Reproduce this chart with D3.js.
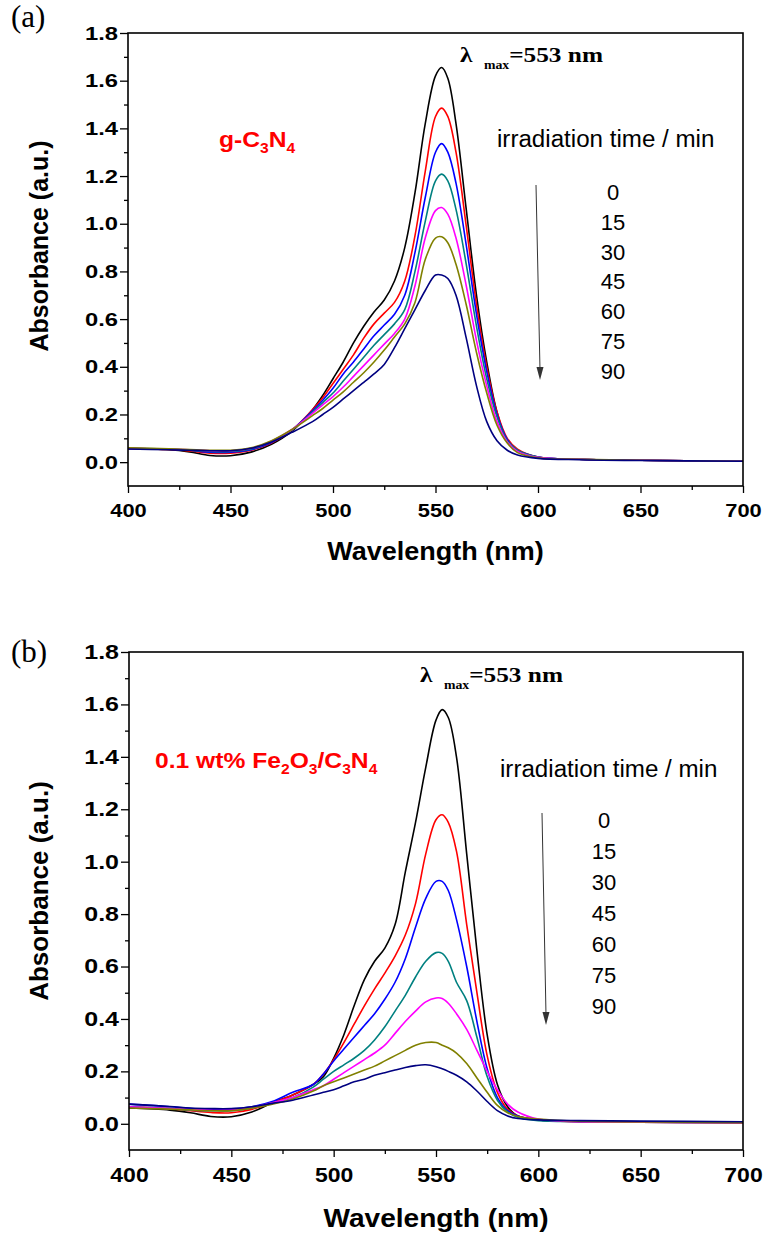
<!DOCTYPE html>
<html>
<head>
<meta charset="utf-8">
<script src="https://cdn.jsdelivr.net/npm/d3@7"></script>
<style>
  body { margin: 0; background: #fff; }
</style>
</head>
<body>
<div id="chart"></div>
<script>
var svgWidth = 764;
var svgHeight = 1236;

// wavelength grid (nm)
var wavelengths = [400, 420, 430, 440, 450, 460, 470, 480, 490, 495, 500, 505, 510, 515, 520, 525, 530, 535, 540, 545, 550, 553, 556, 560, 565, 570, 575, 580, 585, 590, 600, 620, 650, 700];
var times = ["0", "15", "30", "45", "60", "75", "90"];
var xTicks = [400, 450, 500, 550, 600, 650, 700];
var xMinor = [425, 475, 525, 575, 625, 675];
var yTicks = [0, 0.2, 0.4, 0.6, 0.8, 1.0, 1.2, 1.4, 1.6, 1.8];
var yMinor = [0.1, 0.3, 0.5, 0.7, 0.9, 1.1, 1.3, 1.5, 1.7];

// (a) g-C3N4
var a0  = [.057, .052, .043, .028, .027, .042, .075, .13, .22, .28, .35, .42, .50, .57, .63, .68, .76, .90, 1.13, 1.42, 1.62, 1.655, 1.61, 1.42, 1.06, .70, .42, .21, .09, .05, .02, .012, .008, .004];
var a15 = [.058, .053, .047, .038, .038, .05, .08, .135, .22, .27, .33, .39, .45, .52, .58, .625, .67, .76, .95, 1.22, 1.45, 1.485, 1.45, 1.30, .99, .66, .40, .21, .10, .055, .022, .012, .008, .004];
var a30 = [.058, .054, .05, .042, .042, .052, .082, .135, .215, .26, .31, .37, .42, .475, .53, .575, .62, .70, .88, 1.11, 1.30, 1.336, 1.30, 1.17, .91, .62, .38, .20, .095, .05, .022, .012, .008, .004];
var a45 = [.058, .055, .05, .045, .045, .055, .085, .135, .21, .25, .29, .34, .39, .44, .49, .535, .58, .64, .80, 1.01, 1.18, 1.208, 1.18, 1.06, .83, .57, .35, .19, .09, .05, .022, .012, .008, .004];
var a60 = [.058, .055, .052, .048, .048, .058, .088, .137, .205, .24, .275, .315, .36, .405, .45, .495, .54, .60, .74, .94, 1.055, 1.068, 1.04, .94, .74, .51, .32, .17, .085, .045, .02, .012, .008, .004];
var a75 = [.06, .056, .053, .05, .05, .06, .09, .137, .195, .225, .26, .295, .335, .375, .42, .47, .525, .58, .67, .85, .94, .945, .92, .83, .66, .46, .29, .155, .08, .04, .018, .012, .008, .004];
var a90 = [.055, .052, .05, .048, .048, .058, .085, .125, .17, .20, .23, .265, .30, .335, .37, .41, .48, .56, .64, .72, .785, .785, .77, .70, .52, .32, .17, .09, .05, .03, .016, .01, .007, .004];

// (b) 0.1 wt% Fe2O3/C3N4
var b0  = [.06, .052, .042, .028, .027, .045, .08, .11, .15, .18, .25, .34, .45, .55, .62, .67, .76, .96, 1.15, 1.36, 1.54, 1.58, 1.55, 1.40, 1.03, .66, .34, .15, .065, .03, .015, .008, .006, .004];
var b15 = [.065, .058, .05, .043, .042, .055, .08, .11, .15, .19, .245, .31, .38, .45, .515, .575, .64, .72, .84, 1.03, 1.16, 1.179, 1.15, 1.04, .76, .50, .26, .12, .055, .03, .015, .008, .006, .004];
var b30 = [.075, .065, .058, .055, .057, .065, .085, .12, .15, .19, .24, .285, .33, .375, .42, .475, .54, .63, .75, .86, .925, .925, .89, .78, .60, .39, .21, .10, .05, .03, .015, .01, .008, .006];
var b45 = [.065, .058, .052, .05, .05, .06, .08, .10, .14, .17, .20, .225, .25, .28, .32, .37, .43, .49, .56, .62, .653, .65, .62, .54, .47, .33, .18, .09, .045, .025, .012, .008, .006, .005];
var b60 = [.065, .058, .054, .052, .053, .062, .08, .10, .13, .145, .17, .195, .22, .245, .27, .30, .345, .39, .43, .465, .48, .478, .46, .42, .36, .28, .20, .13, .075, .045, .018, .008, .006, .005];
var b75 = [.06, .056, .053, .05, .05, .06, .075, .095, .125, .145, .16, .175, .19, .205, .22, .24, .26, .28, .30, .31, .31, .30, .29, .27, .23, .175, .12, .07, .042, .028, .018, .01, .007, .005];
var b90 = [.075, .066, .06, .058, .058, .065, .078, .09, .11, .12, .13, .145, .16, .17, .185, .195, .205, .215, .222, .225, .218, .21, .20, .185, .16, .125, .085, .05, .03, .02, .015, .012, .01, .008];

var lineColors = ["#000000", "#ff0000", "#0000ff", "#008080", "#ff00ff", "#808000", "#000080"];

var panels = [
  {
    tag: "(a)", series: [a0, a15, a30, a45, a60, a75, a90],
    top: 33, bottom: 486, left: 128, right: 743,
    tagY: 27, tickFont: 19, titleFont: 25, xTitleY: 560, yTitleY: 246,
    lam: {x: 460, y: 62},
    sample: [["g-C", 0], ["3", 1], ["N", 0], ["4", 1]], sampleX: 219, sampleY: 147,
    head: {x: 497, y: 147}, numX: 613, numY: 200, numStep: 29.8,
    arrow: [536, 185, 540, 380]
  },
  {
    tag: "(b)", series: [b0, b15, b30, b45, b60, b75, b90],
    top: 652, bottom: 1150, left: 129, right: 743,
    tagY: 662, tickFont: 20, titleFont: 26, xTitleY: 1227, yTitleY: 891,
    lam: {x: 420, y: 682},
    sample: [["0.1 wt% Fe", 0], ["2", 1], ["O", 0], ["3", 1], ["/C", 0], ["3", 1], ["N", 0], ["4", 1]], sampleX: 155, sampleY: 768,
    head: {x: 500, y: 777}, numX: 604, numY: 828, numStep: 31,
    arrow: [542, 813, 546, 1025]
  }
];

var svg = d3.select("#chart")
  .append("svg")
  .attr("width", svgWidth)
  .attr("height", svgHeight);

var sans = "'Liberation Sans', Arial, sans-serif";
var serif = "'Liberation Serif', 'Times New Roman', serif";

panels.forEach(function(p) {
  var g = svg.append("g");

  var x = d3.scaleLinear().domain([400, 700]).range([p.left, p.right]);
  var y = d3.scaleLinear().domain([-0.1, 1.8]).range([p.bottom, p.top]);

  // curves
  var line = d3.line()
    .x(d => x(d[0]))
    .y(d => y(d[1]))
    .curve(d3.curveCatmullRom.alpha(0.5));

  p.series.forEach(function(vals, i) {
    g.append("path")
      .datum(wavelengths.map((w, k) => [w, vals[k]]))
      .attr("d", line)
      .attr("fill", "none")
      .attr("stroke", lineColors[i])
      .attr("stroke-width", 1.6);
  });

  // axes
  var xAxis = g.append("g")
    .attr("transform", `translate(0, ${p.bottom})`)
    .call(d3.axisBottom(x).tickValues(xTicks).tickSize(7).tickPadding(11).tickFormat(d3.format("d")));
  g.append("g")
    .attr("transform", `translate(0, ${p.bottom})`)
    .call(d3.axisBottom(x).tickValues(xMinor).tickSize(4).tickFormat(""));

  var yAxis = g.append("g")
    .attr("transform", `translate(${p.left}, 0)`)
    .call(d3.axisLeft(y).tickValues(yTicks).tickSize(8).tickPadding(0).tickFormat(d3.format(".1f")));
  g.append("g")
    .attr("transform", `translate(${p.left}, 0)`)
    .call(d3.axisLeft(y).tickValues(yMinor).tickSize(4).tickFormat(""));

  g.selectAll(".domain").remove();
  g.selectAll(".tick line").attr("stroke", "#000").attr("stroke-width", 1.3);

  xAxis.selectAll("text")
    .attr("font-family", sans).attr("font-weight", "bold")
    .attr("font-size", p.tickFont + "px").attr("fill", "#000")
    .attr("transform", "scale(1.15,1)");
  yAxis.selectAll("text")
    .attr("font-family", sans).attr("font-weight", "bold")
    .attr("font-size", p.tickFont + "px").attr("fill", "#000")
    .attr("x", -8)
    .attr("transform", "scale(1.25,1)");

  // frame
  g.append("rect")
    .attr("x", p.left).attr("y", p.top)
    .attr("width", p.right - p.left).attr("height", p.bottom - p.top)
    .attr("fill", "none").attr("stroke", "#000").attr("stroke-width", 1.6);

  // axis titles
  g.append("text")
    .attr("transform", `translate(${(p.left + p.right) / 2}, ${p.xTitleY}) scale(1.08,1)`)
    .attr("text-anchor", "middle")
    .attr("font-family", sans).attr("font-weight", "bold")
    .attr("font-size", p.titleFont + "px")
    .text("Wavelength (nm)");

  g.append("text")
    .attr("transform", `translate(48, ${p.yTitleY}) rotate(-90)`)
    .attr("text-anchor", "middle")
    .attr("font-family", sans).attr("font-weight", "bold")
    .attr("font-size", p.titleFont + "px")
    .text("Absorbance (a.u.)");

  // panel tag
  g.append("text")
    .attr("x", 11).attr("y", p.tagY)
    .attr("font-family", serif)
    .attr("font-size", "31px")
    .text(p.tag);

  // lambda max label
  var lam = g.append("text")
    .attr("transform", `translate(${p.lam.x}, ${p.lam.y}) scale(1.15,1)`)
    .attr("font-family", serif).attr("font-weight", "bold")
    .attr("font-size", "22px");
  lam.append("tspan").text("\u03bb");
  lam.append("tspan").attr("font-size", "12px").attr("dx", 10).attr("dy", 7).text("max");
  lam.append("tspan").attr("dy", -7).text("=553 nm");

  // sample label
  var s = g.append("text")
    .attr("transform", `translate(${p.sampleX}, ${p.sampleY}) scale(1.12,1)`)
    .attr("font-family", sans).attr("font-weight", "bold")
    .attr("font-size", "22px").attr("fill", "#ff0000");
  var prevSub = 0;
  p.sample.forEach(function(part) {
    var t = s.append("tspan").text(part[0]);
    var shift = (part[1] - prevSub) * 6;
    if (shift !== 0) t.attr("dy", shift);
    if (part[1]) t.attr("font-size", "14px");
    prevSub = part[1];
  });

  // legend
  g.append("text")
    .attr("transform", `translate(${p.head.x}, ${p.head.y}) scale(1.05,1)`)
    .attr("font-family", sans).attr("font-size", "23px")
    .text("irradiation time / min");

  g.selectAll(".num")
    .data(times)
    .enter()
    .append("text")
    .attr("x", p.numX)
    .attr("y", (d, i) => p.numY + i * p.numStep)
    .attr("text-anchor", "middle")
    .attr("font-family", sans).attr("font-size", "22px")
    .text(d => d);

  // arrow
  var a = p.arrow;
  g.append("line")
    .attr("x1", a[0]).attr("y1", a[1])
    .attr("x2", a[2]).attr("y2", a[3] - 10)
    .attr("stroke", "#333").attr("stroke-width", 1);
  g.append("path")
    .attr("d", `M${a[2]},${a[3]} L${a[2] - 3.5},${a[3] - 13} L${a[2] + 3.5},${a[3] - 13} Z`)
    .attr("fill", "#333");
});
</script>
</body>
</html>
